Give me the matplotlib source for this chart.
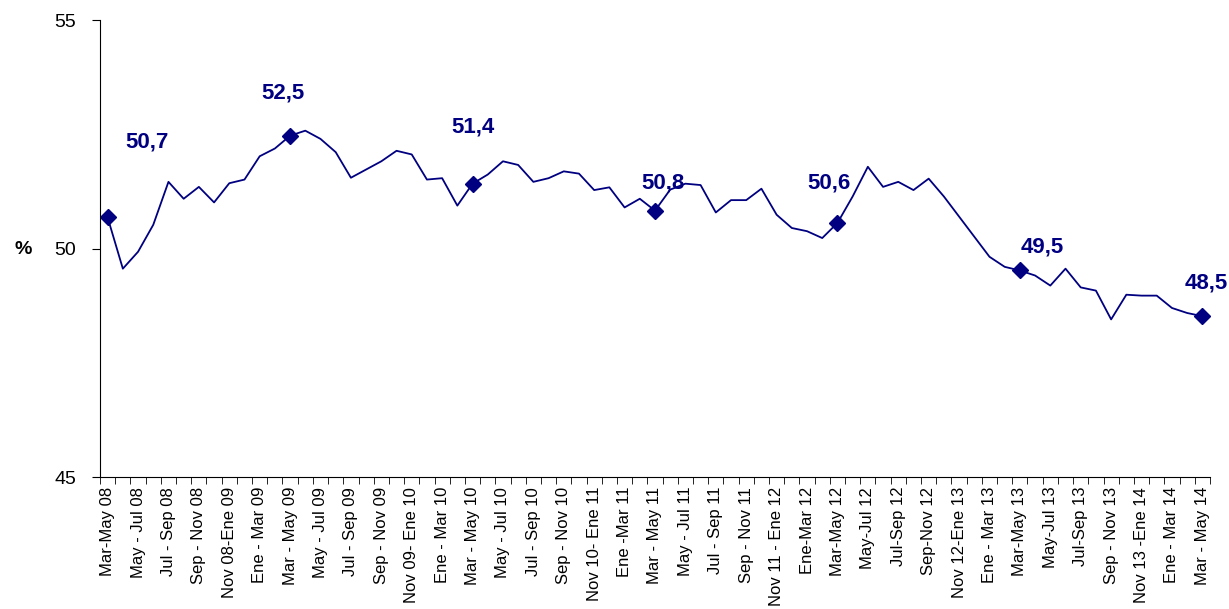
import numpy as np
import matplotlib
matplotlib.use('Agg')
import matplotlib.pyplot as plt

plt.rcParams['font.family'] = ['Liberation Sans', 'DejaVu Sans']

### Data
labels = ['Mar-May 08', 'May - Jul 08', 'Jul - Sep 08', 'Sep - Nov 08', 'Nov 08-Ene 09',
          'Ene - Mar 09', 'Mar - May 09', 'May - Jul 09', 'Jul - Sep 09', 'Sep - Nov 09',
          'Nov 09- Ene 10', 'Ene - Mar 10', 'Mar - May 10', 'May - Jul 10', 'Jul - Sep 10',
          'Sep - Nov 10', 'Nov 10- Ene 11', 'Ene -Mar 11', 'Mar - May 11', 'May - Jul 11',
          'Jul - Sep 11', 'Sep - Nov 11', 'Nov 11 - Ene 12', 'Ene-Mar 12', 'Mar-May 12',
          'May-Jul 12', 'Jul-Sep 12', 'Sep-Nov 12', 'Nov 12-Ene 13', 'Ene - Mar 13',
          'Mar-May 13', 'May-Jul 13', 'Jul-Sep 13', 'Sep - Nov 13', 'Nov 13 -Ene 14',
          'Ene - Mar 14', 'Mar - May 14']

values = [50.68, 49.56, 49.93, 50.52, 51.46, 51.09, 51.35, 51.01, 51.43, 51.51,
          52.02, 52.19, 52.47, 52.58, 52.40, 52.11, 51.55, 51.73, 51.91, 52.14,
          52.06, 51.51, 51.54, 50.94, 51.42, 51.62, 51.91, 51.83, 51.46, 51.54,
          51.69, 51.64, 51.28, 51.34, 50.90, 51.09, 50.83, 51.29, 51.42, 51.39,
          50.79, 51.06, 51.06, 51.31, 50.74, 50.45, 50.38, 50.23, 50.56, 51.14,
          51.79, 51.35, 51.46, 51.28, 51.53, 51.14, 50.70, 50.26, 49.82, 49.60,
          49.52, 49.41, 49.19, 49.56, 49.15, 49.08, 48.45, 48.99, 48.97, 48.97,
          48.70, 48.59, 48.52]

mark_idx = [0, 12, 24, 36, 48, 60, 72]
mark_txt = ['50,7', '52,5', '51,4', '50,8', '50,6', '49,5', '48,5']
# label offsets (points) from marker
txt_off = [(28, 54), (-5, 31), (0, 41), (6, 20), (-6, 29), (16, 17), (3, 24)]

navy = '#000080'
x = np.arange(len(values))

fig = plt.figure(figsize=(12.29, 6.09), dpi=100)
ax = fig.add_axes([0.0814, 0.2167, 0.9031, 0.7503])

ax.plot(x, values, color=navy, lw=1.3)
ax.plot(x[mark_idx], np.array(values)[mark_idx], ls='none', marker='D',
        ms=8, color=navy)

for i, t, off in zip(mark_idx, mark_txt, txt_off):
    ax.annotate(t, (i, values[i]), xytext=off, textcoords='offset points',
                ha='center', va='center', fontsize=16, fontweight='bold',
                color=navy, annotation_clip=False)

ax.set_xlim(-0.5, len(values) - 0.5)
ax.set_ylim(45, 55)
ax.set_yticks([45, 50, 55])
ax.tick_params(axis='y', labelsize=14, length=6, pad=11)

ax.set_xticks(np.arange(0, len(values), 2))
ax.set_xticklabels(labels, rotation=90, fontsize=12)
ax.tick_params(axis='x', which='major', length=0, pad=7)
ax.set_xticks(np.arange(-0.5, len(values), 1), minor=True)
ax.tick_params(axis='x', which='minor', length=5)

for s in ['top', 'right']:
    ax.spines[s].set_visible(False)

fig.text(0.012, 0.591, '%', fontsize=14, fontweight='bold', va='center')

fig.savefig('out.png', dpi=100)
